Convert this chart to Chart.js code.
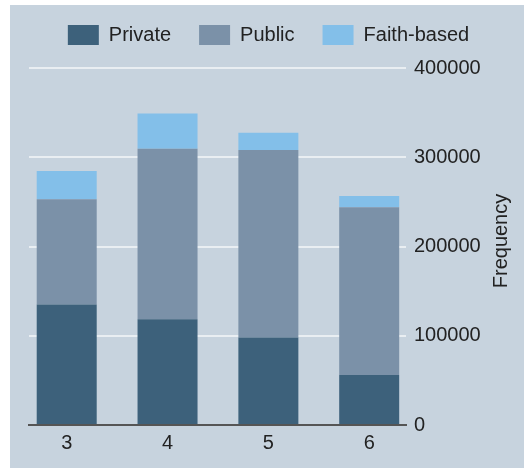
<!DOCTYPE html>
<html lang="en">
<head>
    <meta charset="UTF-8">
    <title>Frequency by category</title>
    <script src="https://cdn.jsdelivr.net/npm/chart.js"></script>
    <style>
        html, body { margin: 0; padding: 0; background: #fff; }
        #wrap { width: 524px; height: 470px; }
    </style>
</head>
<body>
    <div id="wrap"><canvas id="freqChart"></canvas></div>

    <script>
        // categories and stacked counts
        const categories = ['3', '4', '5', '6'];
        const privateCounts = [135000, 118500, 98000, 56000];
        const publicCounts = [118000, 191000, 210000, 188000];
        const faithCounts = [31500, 39500, 19500, 12500];
        const yTicks = [0, 100000, 200000, 300000, 400000];
        const yTitle = 'Frequency';

        Chart.defaults.font.family = '"Liberation Sans", Arial, sans-serif';
        Chart.defaults.font.size = 20;
        Chart.defaults.color = '#222';

        const toPoints = arr => arr.map((v, i) => ({ x: Number(categories[i]), y: v }));

        // grey-blue panel behind everything
        const panelBg = {
            id: 'panelBg',
            beforeDraw(chart) {
                const c = chart.ctx;
                c.save();
                c.fillStyle = '#ffffff';
                c.fillRect(0, 0, chart.width, chart.height);
                c.fillStyle = '#c7d3de';
                c.fillRect(10, 5, chart.width - 10, chart.height - 7);
                c.restore();
            }
        };

        // axis title on the right, reading bottom to top
        const rightTitle = {
            id: 'rightTitle',
            afterDraw(chart) {
                const c = chart.ctx;
                c.save();
                c.translate(chart.width - 23, 241);
                c.rotate(-Math.PI / 2);
                c.font = '20px "Liberation Sans", Arial, sans-serif';
                c.fillStyle = '#222';
                c.textAlign = 'center';
                c.textBaseline = 'middle';
                c.fillText(yTitle, 0, 0);
                c.restore();
            }
        };

        const ctx = document.getElementById('freqChart').getContext('2d');

        const chart = new Chart(ctx, {
            type: 'bar',
            data: {
                datasets: [
                    { label: 'Private', data: toPoints(privateCounts), backgroundColor: '#3d617b', stack: 'all' },
                    { label: 'Public', data: toPoints(publicCounts), backgroundColor: '#7b91a8', stack: 'all' },
                    { label: 'Faith-based', data: toPoints(faithCounts), backgroundColor: '#83bfe9', stack: 'all' }
                ]
            },
            options: {
                responsive: true,
                maintainAspectRatio: false,
                animation: false,
                layout: { padding: { top: -3, left: 29, right: 16, bottom: 9 } },
                datasets: {
                    bar: { barPercentage: 0.595, categoryPercentage: 1 }
                },
                plugins: {
                    legend: {
                        position: 'top',
                        labels: { boxWidth: 31, boxHeight: 20, padding: 28, color: '#222' }
                    },
                    // empty spacer between legend and plot
                    title: { display: true, text: '', weight: 500, padding: { top: 1, bottom: 0 }, font: { size: 10 } },
                    tooltip: { enabled: false }
                },
                scales: {
                    x: {
                        type: 'linear',
                        bounds: 'data',
                        offset: false,
                        min: 2.626,
                        max: 6.365,
                        afterBuildTicks: axis => {
                            axis.ticks = categories.map(c => ({ value: Number(c) }));
                        },
                        ticks: {
                            padding: 6,
                            callback: v => String(v)
                        },
                        grid: { display: true, offset: false, drawOnChartArea: false, drawTicks: false, tickLength: 0 },
                        border: { display: true, color: '#555', width: 2 }
                    },
                    y: {
                        position: 'right',
                        stacked: true,
                        min: 0,
                        max: 400000,
                        afterBuildTicks: axis => {
                            axis.ticks = yTicks.map(v => ({ value: v }));
                        },
                        afterFit: axis => { axis.width = 102; },
                        ticks: { padding: 8, callback: v => String(v) },
                        grid: {
                            drawTicks: false,
                            tickLength: 0,
                            lineWidth: 2,
                            color: c => c.tick && c.tick.value === 0 ? 'rgba(0,0,0,0)' : '#e9eef2'
                        },
                        border: { display: false }
                    }
                }
            },
            plugins: [panelBg, rightTitle]
        });
    </script>
</body>
</html>
